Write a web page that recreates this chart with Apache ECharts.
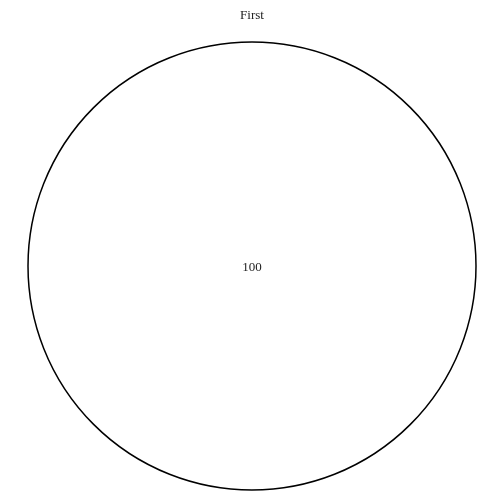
<!DOCTYPE html>
<html><head><meta charset="utf-8">
<script src="https://cdn.jsdelivr.net/npm/echarts@6/dist/echarts.min.js"></script>
<style>html,body{margin:0;padding:0;background:#fff}#c{width:504px;height:504px}</style>
</head><body><div id="c"></div>
<script>
const titleText = 'First';
const categories = ['A'];
const values = [100];
const chart = echarts.init(document.getElementById('c'));
chart.setOption({
  backgroundColor: '#fff',
  animation: false,
  title: { text: titleText, left: 'center', top: 4, textStyle: { fontFamily: 'Liberation Serif', fontSize: 13, fontWeight: 'normal', color: '#222' } },
  series: [{
    type: 'pie',
    center: [252, 266],
    radius: [0, 224],
    data: categories.map((c, i) => ({ name: c, value: values[i] })),
    itemStyle: { color: '#fff', borderColor: '#000', borderWidth: 1.5 },
    label: { show: true, position: 'center', formatter: '{c}', offset: [0, 2], fontFamily: 'Liberation Serif', fontSize: 13, color: '#222' },
    labelLine: { show: false },
    emphasis: { disabled: true }
  }]
});
</script></body></html>
